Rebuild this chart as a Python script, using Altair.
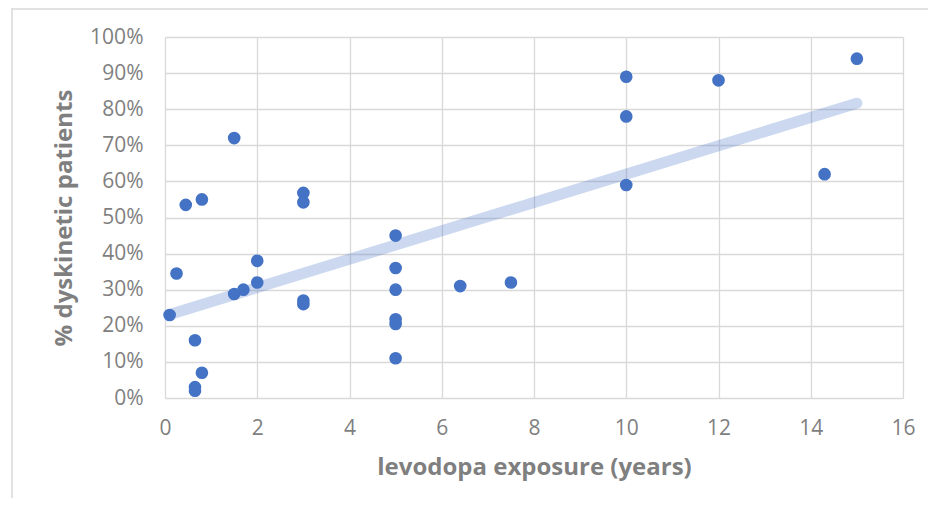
import altair as alt
import pandas as pd

# levodopa exposure (years)
exposure = [0.1, 0.25, 0.45, 0.8, 0.65, 0.8, 0.65, 0.65, 1.5, 1.5, 1.7, 2.0, 2.0,
            3.0, 3.0, 3.0, 3.0, 5.0, 5.0, 5.0, 5.0, 5.0, 5.0, 6.4, 7.5,
            10.0, 10.0, 10.0, 12.0, 14.3, 15.0]
# % dyskinetic patients
dyskinetic = [23.0, 34.5, 53.5, 55.0, 16.0, 7.0, 3.0, 2.0, 72.0, 28.8, 30.0, 38.0, 32.0,
              56.8, 54.2, 27.0, 26.0, 45.0, 36.0, 30.0, 21.8, 20.5, 11.0, 31.0, 32.0,
              89.0, 78.0, 59.0, 88.0, 62.0, 94.0]

x_ticks = [0, 2, 4, 6, 8, 10, 12, 14, 16]
y_ticks = [0, 10, 20, 30, 40, 50, 60, 70, 80, 90, 100]

df = pd.DataFrame({"x": exposure, "y": dyskinetic})

FONT = "Open Sans"
GRAY = "#7f7f7f"
BLUE = "#4472C4"

common = dict(labelFontSize=21, titleFontSize=24, titleFontWeight="bold",
              labelFlush=False, labelColor=GRAY, titleColor=GRAY,
              labelFont=FONT, titleFont=FONT,
              gridColor="#d9d9d9", gridWidth=1.3, domain=False, ticks=False)

x_enc = alt.X("x:Q", scale=alt.Scale(domain=[0, 16], nice=False),
              axis=alt.Axis(values=x_ticks, title="levodopa exposure (years)",
                            labelPadding=19, titlePadding=17, **common))
y_enc = alt.Y("y:Q", scale=alt.Scale(domain=[0, 100], nice=False),
              axis=alt.Axis(values=y_ticks, title="% dyskinetic patients",
                            labelExpr="datum.value + '%'",
                            labelPadding=22, titlePadding=13, **common))

base = alt.Chart(df)

trend = base.transform_regression("x", "y").mark_line(
    color=BLUE, opacity=0.28, strokeWidth=11, strokeCap="round"
).encode(x=x_enc, y=y_enc)

points = base.mark_circle(size=160, color=BLUE, opacity=1).encode(x=x_enc, y=y_enc)

frame = alt.Chart(pd.DataFrame({"a": [0]})).mark_rule(color="#d9d9d9", strokeWidth=1.5).encode(
    x=alt.value(-153), x2=alt.value(-153), y=alt.value(-29), y2=alt.value(480)
)
frame_top = alt.Chart(pd.DataFrame({"a": [0]})).mark_rule(color="#d9d9d9", strokeWidth=1.5).encode(
    x=alt.value(-153), x2=alt.value(800), y=alt.value(-28), y2=alt.value(-28)
)

chart = alt.layer(frame, frame_top, trend, points).properties(
    width=738, height=361,
    background="white",
    autosize=alt.AutoSizeParams(type="none"),
    padding={"left": 157, "top": 29, "right": 25, "bottom": 100},
).configure_view(stroke=None)

chart.save("out.html", embed_options={"renderer": "svg", "actions": False})
